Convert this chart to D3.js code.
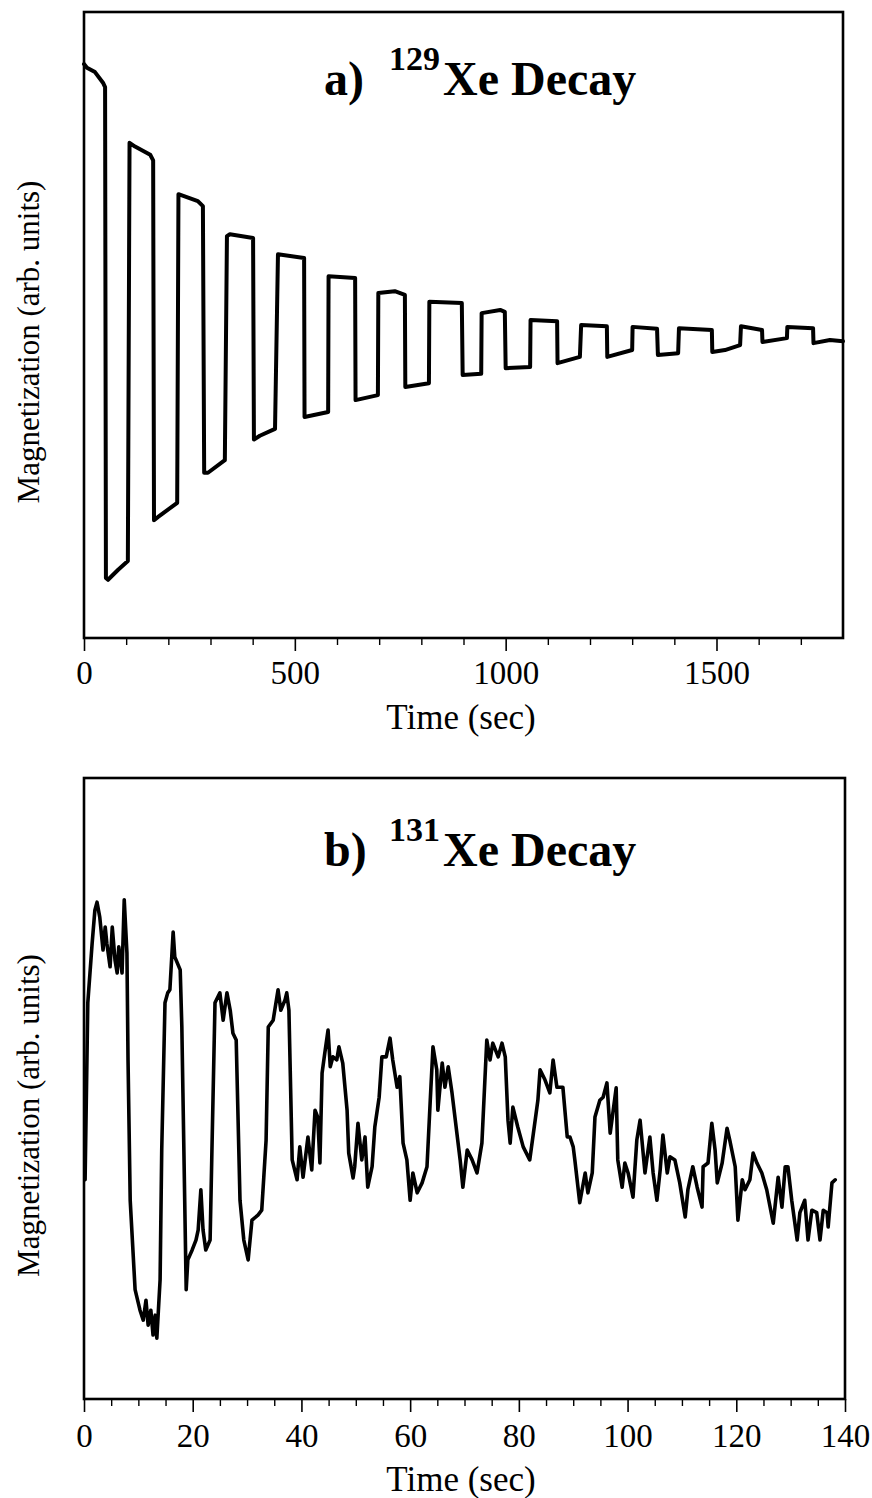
<!DOCTYPE html>
<html>
<head>
<meta charset="utf-8">
<script src="https://cdnjs.cloudflare.com/ajax/libs/d3/7.8.5/d3.min.js"></script>
<style>
body { margin: 0; background: #fff; }
text { font-family: "Liberation Serif", "Times New Roman", serif; fill: #000; }
</style>
</head>
<body>
<div id="chart"></div>
<script>
// ---- panel a: 129Xe decay (time in sec, magnetization in arb. units) ----
var timeA = [0,7,26,45,50,52,57,81,104,108,121,157,164,166,175,221,224,270,282,285,294,334,339,346,401,403,417,453,460,522,523,579,580,643,644,697,698,737,761,762,818,819,896,898,942,943,987,998,1000,1058,1059,1122,1123,1176,1179,1240,1241,1300,1301,1359,1361,1409,1411,1489,1490,1520,1556,1558,1608,1609,1667,1668,1729,1730,1769,1800];
var magA = [0.917,0.911,0.904,0.887,0.880,0.096,0.093,0.109,0.123,0.791,0.785,0.772,0.763,0.188,0.193,0.216,0.709,0.698,0.690,0.264,0.264,0.284,0.642,0.645,0.639,0.317,0.323,0.334,0.613,0.607,0.353,0.361,0.578,0.575,0.380,0.388,0.551,0.554,0.548,0.401,0.407,0.537,0.535,0.420,0.422,0.519,0.524,0.521,0.431,0.433,0.508,0.506,0.439,0.449,0.500,0.498,0.449,0.460,0.497,0.494,0.452,0.455,0.495,0.492,0.457,0.460,0.468,0.498,0.492,0.473,0.479,0.497,0.495,0.471,0.476,0.474];
var majorTicksA = [0, 500, 1000, 1500];
var minorTicksA = [100,200,300,400,600,700,800,900,1100,1200,1300,1400,1600,1700];
var tickLabelsA = ["0", "500", "1000", "1500"];

// ---- panel b: 131Xe decay ----
var timeB = [0.2,0.7,1.5,2.0,2.4,2.9,3.5,3.9,4.2,4.8,5.2,5.7,6.1,6.4,7.0,7.4,7.9,8.1,8.5,9.4,10.3,10.9,11.4,11.8,12.3,12.7,13.1,13.4,14.0,14.3,14.9,15.4,15.8,16.4,16.7,17.7,18.0,18.2,18.8,19.1,19.9,20.6,21.0,21.5,21.9,22.4,23.2,23.5,24.1,25.0,25.6,26.3,26.9,27.4,28.0,28.7,29.4,30.2,30.9,32.0,32.7,33.5,33.9,34.8,35.7,36.2,37.0,37.3,37.7,38.3,39.2,39.7,40.3,41.2,41.9,42.5,43.0,43.4,43.8,44.3,44.9,45.3,45.8,46.5,46.9,47.6,48.4,48.7,49.5,49.8,50.4,51.1,51.7,52.2,53.0,53.5,54.3,54.8,55.6,56.3,56.8,57.6,58.1,58.7,59.4,60.0,60.5,61.3,62.2,63.1,63.7,64.2,64.9,65.1,65.9,66.4,67.0,67.7,68.6,69.2,69.7,70.5,71.4,72.3,73.2,74.1,74.7,75.2,76.2,76.9,77.5,78.0,78.4,78.9,79.8,80.8,82.0,83.0,83.5,83.9,84.8,85.7,86.3,87.0,88.1,88.9,89.4,90.0,90.3,91.2,92.2,92.7,93.5,94.0,94.9,95.5,96.2,96.8,97.3,97.9,98.2,99.0,99.5,100.1,101.0,101.7,102.3,103.2,104.1,104.7,105.4,106.0,106.5,107.3,107.8,108.7,109.6,110.6,111.1,112.0,112.8,113.7,113.9,114.8,115.5,116.1,116.5,117.4,118.3,118.8,119.8,120.3,121.1,121.6,122.5,123.1,123.8,124.7,125.6,126.8,127.7,128.4,129.0,129.5,130.2,131.2,131.7,132.6,133.2,133.9,134.8,135.4,136.0,136.7,136.9,137.6,138.2];
var magB = [35.3,63.8,73.4,78.7,80.0,77.6,72.3,76.0,73.4,69.6,76.0,70.7,68.6,72.8,68.6,80.4,71.8,54.6,32.0,17.6,14.3,12.7,15.9,11.9,14.3,10.3,13.5,9.8,19.2,40.1,63.8,65.4,65.9,75.2,71.2,69.1,59.9,49.3,17.6,22.4,24.0,25.6,27.2,33.7,27.2,24.0,25.6,38.5,63.8,65.4,61.0,65.4,62.6,58.9,57.8,32.0,25.6,22.4,28.8,29.6,30.4,41.7,59.9,61.0,65.9,62.6,64.3,65.4,62.6,38.5,35.3,40.6,35.7,42.2,36.9,46.5,45.4,38.0,52.5,55.7,59.4,53.5,55.1,54.6,56.7,54.1,46.5,39.6,35.6,37.4,44.4,38.5,42.2,34.1,37.4,43.8,48.6,55.1,55.1,58.1,54.6,50.2,51.9,41.2,38.5,32.0,36.4,33.2,34.8,37.4,48.1,56.7,53.0,46.5,54.1,50.2,53.5,49.3,42.8,38.5,34.1,40.1,38.5,36.4,41.2,57.8,54.6,57.3,55.1,57.3,55.1,44.9,41.2,47.0,43.8,40.6,38.5,44.9,48.1,53.0,51.4,49.3,54.6,50.2,50.2,42.2,42.2,40.6,38.5,31.6,36.4,33.2,36.4,45.4,48.1,48.6,50.9,42.8,46.1,50.1,38.5,34.1,38.0,36.4,32.5,41.7,44.9,36.4,42.2,36.4,32.0,36.9,42.5,36.4,39.0,38.5,34.8,29.3,33.7,37.4,34.1,30.9,37.4,38.0,44.4,40.1,34.8,38.0,43.6,41.7,37.4,28.8,35.3,33.7,35.3,39.6,38.0,36.4,33.7,28.3,35.7,30.9,37.4,37.4,32.0,25.6,30.0,32.0,25.6,30.4,30.0,25.6,30.4,30.0,27.7,34.8,35.3];
var majorTicksB = [0, 20, 40, 60, 80, 100, 120, 140];
var minorTicksB = [5,10,15,25,30,35,45,50,55,65,70,75,85,90,95,105,110,115,125,130,135];
var tickLabelsB = ["0", "20", "40", "60", "80", "100", "120", "140"];

var svgWidth = 872; // size of the photographed page
var svgHeight = 1498;

var svg = d3.select("#chart")
    .append("svg")
    .attr("width", svgWidth)
    .attr("height", svgHeight);

// layout of the two stacked panels
var panels = [
    { top: 12, bottom: 638, left: 84, right: 843, xMax: 1800, yMax: 1,
      time: timeA, mag: magA, major: majorTicksA, minor: minorTicksA, labels: tickLabelsA,
      lineWidth: 4, tickLabelY: 684, xTitleY: 729, yTitleShift: 17,
      letter: "a)", isotope: "129", titleY: 95 },
    { top: 778, bottom: 1399, left: 84, right: 845, xMax: 140, yMax: 100,
      time: timeB, mag: magB, major: majorTicksB, minor: minorTicksB, labels: tickLabelsB,
      lineWidth: 3.6, tickLabelY: 1447, xTitleY: 1491, yTitleShift: 27,
      letter: "b)", isotope: "131", titleY: 866 }
];

panels.forEach(function(p) {
    var x = d3.scaleLinear().domain([0, p.xMax]).range([p.left, p.right]);
    var y = d3.scaleLinear().domain([0, p.yMax]).range([p.bottom, p.top]);

    // minor ticks
    svg.append("g")
        .attr("transform", `translate(0, ${p.bottom})`)
        .call(d3.axisBottom(x).tickValues(p.minor).tickSize(7).tickFormat(""))
        .call(g => g.select(".domain").remove())
        .selectAll("line").attr("stroke", "#000").attr("stroke-width", 1.4);

    // major ticks with labels
    var major = svg.append("g")
        .attr("transform", `translate(0, ${p.bottom})`)
        .call(d3.axisBottom(x).tickValues(p.major).tickSize(13)
            .tickFormat((d, i) => p.labels[i]))
        .call(g => g.select(".domain").remove());
    major.selectAll("line").attr("stroke", "#000").attr("stroke-width", 1.6);
    major.selectAll("text")
        .attr("y", p.tickLabelY - p.bottom)
        .attr("dy", 0)
        .attr("fill", "#000")
        .style("font-family", '"Liberation Serif", "Times New Roman", serif')
        .style("font-size", "33px");

    // the data trace
    var line = d3.line()
        .x(d => x(d[0]))
        .y(d => y(d[1]));
    svg.append("path")
        .datum(d3.zip(p.time, p.mag))
        .attr("d", line)
        .attr("fill", "none")
        .attr("stroke", "#000")
        .attr("stroke-width", p.lineWidth)
        .attr("stroke-linejoin", "round")
        .attr("stroke-linecap", "round");

    // frame
    svg.append("rect")
        .attr("x", p.left)
        .attr("y", p.top)
        .attr("width", p.right - p.left)
        .attr("height", p.bottom - p.top)
        .attr("fill", "none")
        .attr("stroke", "#000")
        .attr("stroke-width", 2.6);

    // axis titles
    svg.append("text")
        .attr("x", 461)
        .attr("y", p.xTitleY)
        .attr("text-anchor", "middle")
        .style("font-size", "35px")
        .text("Time (sec)");

    svg.append("text")
        .attr("transform", `translate(39, ${(p.top + p.bottom) / 2 + p.yTitleShift}) rotate(-90)`)
        .attr("text-anchor", "middle")
        .style("font-size", "31px")
        .text("Magnetization (arb. units)");

    // panel title: letter, isotope mass number as superscript, then "Xe Decay"
    var title = svg.append("text")
        .style("font-weight", "bold");
    title.append("tspan")
        .attr("x", 324).attr("y", p.titleY)
        .style("font-size", "48px")
        .text(p.letter);
    title.append("tspan")
        .attr("x", 389).attr("y", p.titleY - 25)
        .style("font-size", "34px")
        .text(p.isotope);
    title.append("tspan")
        .attr("x", 443).attr("y", p.titleY)
        .style("font-size", "48px")
        .text("Xe Decay");
});
</script>
</body>
</html>
